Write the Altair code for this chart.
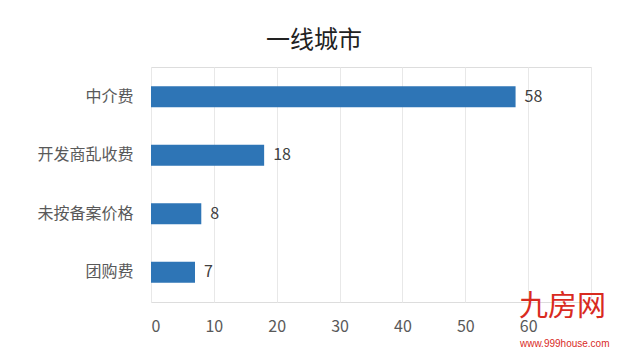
import altair as alt
import pandas as pd

categories = ["中介费", "开发商乱收费", "未按备案价格", "团购费"]
values = [58, 18, 8, 7]
x_ticks = [0, 10, 20, 30, 40, 50, 60, 70]

df = pd.DataFrame({"category": categories, "value": values})

FONT = "Noto Sans CJK SC"

base = alt.Chart(df).encode(
    y=alt.Y("category:N", sort=categories, title=None,
            scale=alt.Scale(paddingInner=0.64, paddingOuter=0.33),
            axis=alt.Axis(labelFont=FONT, labelFontSize=16, labelColor="#595959",
                          ticks=False, domain=False, labelPadding=18)),
)

bars = base.mark_bar(color="#2E75B6").encode(
    x=alt.X("value:Q", title=None,
            scale=alt.Scale(domain=[0, 70], nice=False),
            axis=alt.Axis(values=x_ticks, labelFont=FONT, labelFontSize=16,
                          labelColor="#595959", ticks=False, domain=False,
                          labelPadding=16, gridColor="#e8e8e8",
                          labelExpr="datum.value == 70 ? '' : datum.label"))
)

labels = base.mark_text(align="left", dx=9, font=FONT, fontSize=16, color="#404040").encode(
    x="value:Q", text="value:Q"
)

wm1 = alt.Chart(df).mark_text(text="九房网", font=FONT, fontSize=29, color="#d92b1f",
                              align="left", baseline="middle").encode(
    x=alt.value(368), y=alt.value(240)
).transform_filter("datum.category == '中介费'")
wm2 = alt.Chart(df).mark_text(text="www.999house.com", font="Liberation Sans", fontSize=10,
                              color="#d92b1f", align="left", baseline="middle").encode(
    x=alt.value(369), y=alt.value(277)
).transform_filter("datum.category == '中介费'")

chart = (bars + labels + wm1 + wm2).properties(
    width=440, height=235,
    title=alt.TitleParams("一线城市", font=FONT, fontSize=24, fontWeight="normal",
                          color="#222222", anchor="middle", dx=-57, offset=14),
    padding={"left": 143, "top": 59, "right": 26, "bottom": 48},
    autosize=alt.AutoSizeParams(type="none"),
).configure_view(stroke=None).configure(background="white")

chart.save("out.html", embed_options={"renderer": "svg", "actions": False})
